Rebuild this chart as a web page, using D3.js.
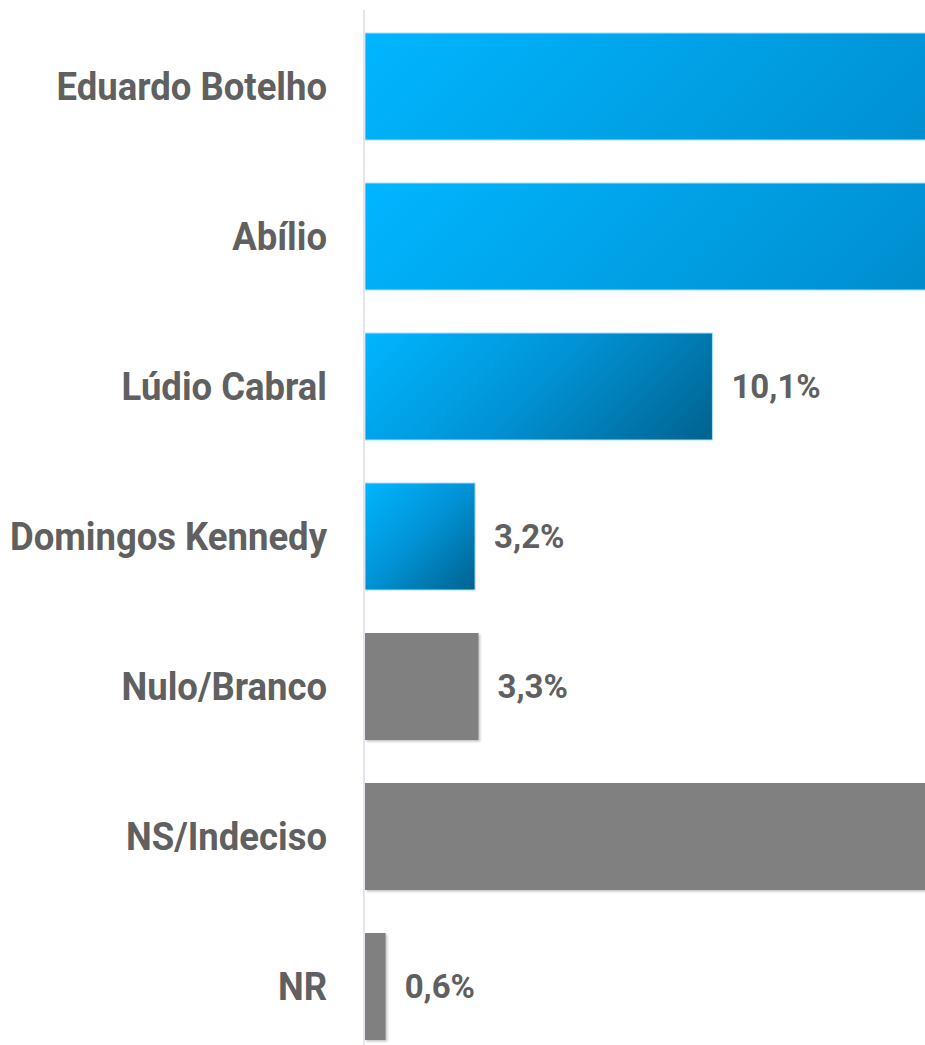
<!DOCTYPE html>
<html>
<head>
<meta charset="utf-8">
<script src="https://cdn.jsdelivr.net/npm/d3@7"></script>
<style>
  html, body { margin: 0; padding: 0; background: #fff; overflow: hidden; }
  svg { display: block; }
  text { font-family: Roboto, "Liberation Sans", sans-serif; font-weight: 700; fill: #606060; }
</style>
</head>
<body>
<svg id="base"></svg>
<script>
const categories = ["Eduardo Botelho", "Abílio", "Lúdio Cabral", "Domingos Kennedy", "Nulo/Branco", "NS/Indeciso", "NR"];
const values = [33.4, 31.2, 10.1, 3.2, 3.3, 18.2, 0.6];
const valueLabels = ["33,4%", "31,2%", "10,1%", "3,2%", "3,3%", "18,2%", "0,6%"];
const kinds = ["cand", "cand", "cand", "cand", "other", "other", "other"];

const width = 925, height = 1045;
const left = 365;
const squeeze = 0.96; // category labels are a bit narrowed in the source

const svg = d3.select("#base").attr("width", width).attr("height", height);

const data = categories.map((c, i) => ({ name: c, value: values[i], label: valueLabels[i], kind: kinds[i], i: i }));

const x = d3.scaleLinear().domain([0, 10]).range([left, left + 344]);
const y = d3.scaleBand().domain(categories).range([3, 1070]).paddingInner(0.2867).paddingOuter(0.2);

const defs = svg.append("defs");

// one gradient per candidate bar, running corner to corner at 45 degrees
defs.selectAll("linearGradient")
    .data(data.filter((d) => d.kind === "cand"))
    .enter()
    .append("linearGradient")
    .attr("id", (d) => "blue" + d.i)
    .attr("gradientUnits", "userSpaceOnUse")
    .attr("x1", x(0))
    .attr("y1", (d) => y(d.name))
    .attr("x2", (d) => x(0) + (x(d.value) - x(0) + y.bandwidth()) / 2)
    .attr("y2", (d) => y(d.name) + (x(d.value) - x(0) + y.bandwidth()) / 2)
    .selectAll("stop")
    .data([["0%", "#00b6ff"], ["50%", "#0092d4"], ["100%", "#00628f"]])
    .enter()
    .append("stop")
    .attr("offset", (s) => s[0])
    .attr("stop-color", (s) => s[1]);

const shadow = defs.append("filter").attr("id", "shadow")
    .attr("x", "-10%").attr("y", "-10%").attr("width", "130%").attr("height", "130%");
shadow.append("feDropShadow").attr("dx", 1.5).attr("dy", 1.5).attr("stdDeviation", 1.2)
    .attr("flood-color", "#000").attr("flood-opacity", 0.25);

// bars
svg.selectAll("rect.bar")
    .data(data)
    .enter()
    .append("rect")
    .attr("class", "bar")
    .attr("x", x(0))
    .attr("y", (d) => y(d.name))
    .attr("width", (d) => x(d.value) - x(0))
    .attr("height", y.bandwidth())
    .attr("fill", (d) => (d.kind === "cand" ? `url(#blue${d.i})` : "#808080"))
    .attr("stroke", (d) => (d.kind === "cand" ? "#a6e0ff" : "none"))
    .attr("stroke-width", 1)
    .attr("filter", (d) => (d.kind === "cand" ? null : "url(#shadow)"));

// axis line
svg.append("line")
    .attr("x1", x(0) - 1).attr("x2", x(0) - 1)
    .attr("y1", 10).attr("y2", height)
    .attr("stroke", "#e4e4ee")
    .attr("stroke-width", 2);

// category labels
svg.selectAll("text.cat")
    .data(data)
    .enter()
    .append("text")
    .attr("class", "cat")
    .attr("transform", (d) => `translate(327,${y(d.name) + y.bandwidth() / 2}) scale(${squeeze},1)`)
    .attr("text-anchor", "end")
    .attr("dy", "0.36em")
    .style("font-size", "38px")
    .text((d) => d.name);

// value labels (bars running past the edge have theirs off the picture)
svg.selectAll("text.val")
    .data(data.filter((d) => x(d.value) + 110 < width))
    .enter()
    .append("text")
    .attr("class", "val")
    .attr("x", (d) => x(d.value) + 19)
    .attr("y", (d) => y(d.name) + y.bandwidth() / 2)
    .attr("dy", "0.36em")
    .style("font-size", "33px")
    .text((d) => d.label);
</script>
</body>
</html>
